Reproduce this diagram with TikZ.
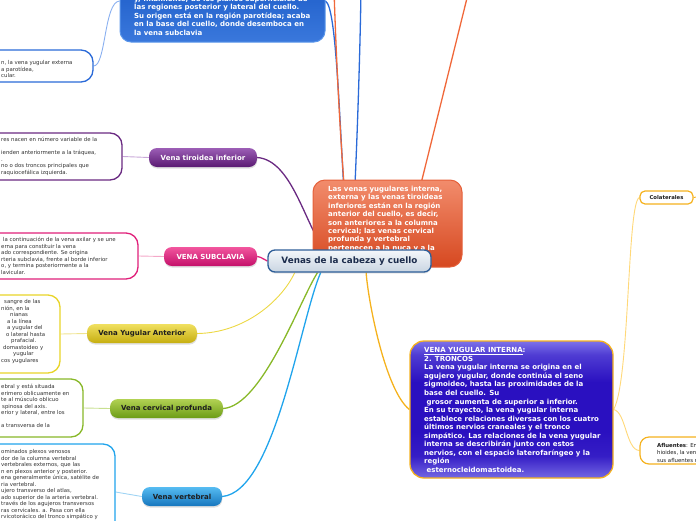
\documentclass[tikz,border=0pt]{standalone}
\usepackage{fontspec}
\setmainfont{DejaVu Sans}
\usetikzlibrary{shadows}
\pgfdeclarelayer{background}
\pgfsetlayers{background,main}
\definecolor{cCenT}{HTML}{F4F7FA}
\definecolor{cCenBot}{HTML}{C9D5E2}
\definecolor{cCenB}{HTML}{2E5E98}
\definecolor{cCenTx}{HTML}{1C2C4C}
\definecolor{cOrT}{HTML}{F28C6C}
\definecolor{cOrBot}{HTML}{D64820}
\definecolor{cOrB}{HTML}{E5603A}
\definecolor{cOrL}{HTML}{F0683A}
\definecolor{cTopT}{HTML}{1454C2}
\definecolor{cTopM}{HTML}{0A46B0}
\definecolor{cTopBot}{HTML}{3A78DC}
\definecolor{cTopB}{HTML}{5A96EA}
\definecolor{cBlueB}{HTML}{2A6AD8}
\definecolor{cBlueL}{HTML}{8AB0F0}
\definecolor{cIntT}{HTML}{7D72EA}
\definecolor{cIntM}{HTML}{2A10C0}
\definecolor{cIntBot}{HTML}{7468E4}
\definecolor{cYelB}{HTML}{F5B21E}
\definecolor{cYelL}{HTML}{FFD878}
\definecolor{cPurT}{HTML}{9C5EB6}
\definecolor{cPurBot}{HTML}{5A1A72}
\definecolor{cPurB}{HTML}{6A2A82}
\definecolor{cPurL}{HTML}{C8A8D8}
\definecolor{cPinT}{HTML}{F2569E}
\definecolor{cPinBot}{HTML}{C4106A}
\definecolor{cPinB}{HTML}{E0207A}
\definecolor{cPinL}{HTML}{F4A8C8}
\definecolor{cYaT}{HTML}{F0E060}
\definecolor{cYaBot}{HTML}{C6AE10}
\definecolor{cYaB}{HTML}{E8D428}
\definecolor{cYaL}{HTML}{F0E490}
\definecolor{cYaTr}{HTML}{ECD844}
\definecolor{cGrT}{HTML}{B2D254}
\definecolor{cGrBot}{HTML}{6C9C16}
\definecolor{cGrB}{HTML}{88B828}
\definecolor{cGrL}{HTML}{C8E090}
\definecolor{cCyT}{HTML}{56BCF2}
\definecolor{cCyBot}{HTML}{1676BE}
\definecolor{cCyB}{HTML}{20A4EC}
\definecolor{cCyL}{HTML}{A0D4F4}
\definecolor{txtgray}{HTML}{333333}
\definecolor{cDark}{HTML}{1E1E1E}
\pgfdeclareverticalshading{intshade}{100bp}{color(0bp)=(cIntBot); color(25bp)=(cIntBot);
  color(33bp)=(cIntM!85!cIntBot); color(42bp)=(cIntM); color(60bp)=(cIntM);
  color(70bp)=(cIntM!55!cIntT); color(75bp)=(cIntT); color(100bp)=(cIntT)}
\tikzset{
  lbl/.style={rounded corners=8pt, inner sep=0pt, minimum height=19pt,
    font=\fontsize{7}{8}\selectfont\bfseries,
    drop shadow={shadow xshift=0.3pt, shadow yshift=-1.6pt, opacity=0.25}},
  leftbox/.style={rounded corners=12pt, draw, line width=1.3pt, fill=white, inner sep=0pt},
  btext/.style={anchor=north west, inner sep=0pt, align=left,
    font=\fontsize{5.4}{6.5}\selectfont, text=txtgray},
  bigtext/.style={anchor=north west, inner sep=0pt, align=left,
    font=\fontsize{7}{8.45}\selectfont\bfseries, text=white},
  twig/.style={line width=0.9pt},
  trunk/.style={line width=1.3pt},
}
\begin{document}
\begin{tikzpicture}[x=1pt,y=-1pt]
\useasboundingbox (0,0) rectangle (696,520);

% top blue node and its leaf
\node[draw=cTopB, line width=1pt, top color=cTopT, middle color=cTopM, bottom color=cTopBot,
  rounded corners=11pt, minimum width=205pt, minimum height=82pt] (topblue) at (222.5,1) {};
\node[bigtext] (toptxt) at (134,-6) {\rule{0pt}{7pt}y, finalmente, de los planos superficiales de\\las regiones posterior y lateral del cuello.\\Su origen está en la región parotídea; acaba\\en la base del cuello, donde desemboca en\\la vena subclavia};

\node[leftbox, draw=cBlueB, minimum width=123pt, minimum height=32pt] (bluebox) at (31.5,66) {};
\node[btext] (bluetxt) at (1,59.1) {\rule{0pt}{5.4pt}n, la vena yugular externa\\a parotídea,\\cular.};

% tiroidea
\node[leftbox, draw=cPurB, minimum width=152pt, minimum height=47pt] (tirbox) at (46,156.5) {};
\node[btext] (tirtxt) at (1,136.1) {\rule{0pt}{5.4pt}res nacen en número variable de la\\\mbox{}\\ienden anteriormente a la tráquea,\\.\\no o dos troncos principales que\\raquiocefálica izquierda.};
\node[lbl, top color=cPurT, bottom color=cPurBot, text=white, minimum width=108pt] (tiroidea) at (203,157.5) {Vena tiroidea inferior};

% subclavia
\node[leftbox, draw=cPinB, minimum width=168pt, minimum height=46pt] (subbox) at (54,256) {};
\node[btext] (subtxt) at (1,236.1) {\rule{0pt}{5.4pt}\hspace*{2pt}la continuación de la vena axilar y se une\\erna para constituir la vena\\ado correspondiente. Se origina\\rteria subclavia, frente al borde inferior\\o, y termina posteriormente a la\\lavicular.};
\node[lbl, top color=cPinT, bottom color=cPinBot, text=white, minimum width=93pt] (subclavia) at (210.5,256.5) {VENA SUBCLAVIA};

% yugular anterior
\node[leftbox, draw=cYaB, minimum width=90pt, minimum height=78pt] (yabox) at (15,334) {};
\node[btext] (yatxt) at (1,298.1) {\rule{0pt}{5.4pt}\hspace*{3pt}sangre de las\\nión, en la\\\hspace*{9pt}nianas\\\hspace*{6pt}a la línea\\\hspace*{6pt}a yugular del\\\hspace*{5pt}o lateral hasta\\\hspace*{10pt}prafacial.\\\hspace*{2pt}domastoideo y\\\hspace*{12pt}yugular\\cos yugulares};
\node[lbl, top color=cYaT, bottom color=cYaBot, text=cDark, minimum width=110pt] (yugant) at (142,333.5) {Vena Yugular Anterior};

% cervical profunda
\node[leftbox, draw=cGrB, minimum width=113pt, minimum height=58pt] (cerbox) at (26.5,408) {};
\node[btext] (certxt) at (1,383.1) {\rule{0pt}{5.4pt}ebral y está situada\\erimero oblicuamente en\\te al músculo oblicuo\\\hspace*{1pt}spinosa del axis.\\erior y lateral, entre los\\\mbox{}\\a transversa de la};
\node[lbl, top color=cGrT, bottom color=cGrBot, text=cDark, minimum width=113pt] (cervical) at (166.5,408.5) {Vena cervical profunda};

% vertebral
\node[leftbox, draw=cCyB, minimum width=145pt, minimum height=96pt] (verbox) at (42.5,492) {};
\node[btext] (vertxt) at (1,448.1) {\rule{0pt}{5.4pt}ominados plexos venosos\\dor de la columna vertebral\\vertebrales externos, que las\\n en plexos anterior y posterior.\\ena generalmente única, satélite de\\ria vertebral.\\ujero transverso del atlas,\\ado superior de la arteria vertebral.\\través de los agujeros transversos\\ras cervicales. a. Pasa con ella\\rvicotorácico del tronco simpático y};
\node[lbl, top color=cCyT, bottom color=cCyBot, text=cDark, minimum width=80pt] (vertebral) at (182,496.5) {Vena vertebral};

% orange node and central
\node[draw=cOrB, line width=1pt, top color=cOrT, bottom color=cOrBot, rounded corners=12pt,
  minimum width=149pt, minimum height=87pt] (orange) at (387.5,223.5) {};
\node[bigtext] (oratxt) at (328,184) {\rule{0pt}{7pt}Las venas yugulares interna,\\externa y las venas tiroideas\\inferiores están en la región\\anterior del cuello, es decir,\\son anteriores a la columna\\cervical; las venas cervical\\profunda y vertebral\\pertenecen a la nuca y a la};
\node[draw=cCenB, line width=1.3pt, top color=cCenT, bottom color=cCenBot, rounded corners=7pt,
  minimum width=163pt, minimum height=22pt, inner sep=0pt,
  font=\fontsize{8.8}{10}\selectfont\bfseries, text=cCenTx,
  drop shadow={shadow xshift=0.3pt, shadow yshift=-1.6pt, opacity=0.2}] (central) at (349.5,261) {Venas de la cabeza y cuello};

% yugular interna
\node[draw=cYelB, line width=1.3pt, shading=intshade,
  rounded corners=14pt, minimum width=203pt, minimum height=137pt] (interna) at (511.5,409.5) {};
\node[bigtext, font=\fontsize{7}{8.55}\selectfont\bfseries] (inttxt) at (424,345.5) {\rule{0pt}{7pt}\underline{VENA YUGULAR INTERNA}:\\2. TRONCOS\\La vena yugular interna se origina en el\\agujero yugular, donde continúa el seno\\sigmoideo, hasta las proximidades de la\\base del cuello. Su\\\hspace*{2.5pt}grosor aumenta de superior a inferior.\\En su trayecto, la vena yugular interna\\establece relaciones diversas con los cuatro\\últimos nervios craneales y el tronco\\simpático. Las relaciones de la vena yugular\\interna se describirán junto con estos\\nervios, con el espacio laterofaríngeo y la\\región\\\hspace*{2.5pt}esternocleidomastoidea.};

% right leaves
\node[draw=cYelB, line width=1.2pt, fill=white, rounded corners=5pt, minimum width=53pt,
  minimum height=13pt, inner sep=0pt, font=\fontsize{5.3}{6}\selectfont\bfseries, text=cDark] (colat) at (666.5,197.5) {Colaterales};
\node[leftbox, draw=cYelB, line width=1.2pt, rounded corners=9pt, minimum width=80pt, minimum height=27pt] (aflu) at (680,450.5) {};
\node[btext, font=\fontsize{5.4}{7.5}\selectfont, text=cDark] (aflutxt) at (657,441.6) {\rule{0pt}{5.4pt}\textbf{Afluentes}: En\\hioides, la ven\\sus afluentes r};

\coordinate (upOr) at (334,-10);
\coordinate (upBl) at (361,-10);
\coordinate (orTop) at (412,220);
\coordinate (orFar) at (469,-10);
\coordinate (colFar) at (702,196);

\begin{pgfonlayer}{background}
  % leaves to their label nodes
  \draw[twig, cBlueL] (bluebox.east) .. controls (106,66) and (104,2) .. (topblue.west);
  \draw[twig, cPurL] (tiroidea.west) -- (tirbox.east);
  \draw[twig, cPinL] (subclavia.west) -- (subbox.east);
  \draw[twig, cYaL] (yugant.west) -- (yabox.east);
  \draw[twig, cGrL] (cervical.west) -- (cerbox.east);
  \draw[twig, cCyL] (vertebral.west) -- (verbox.east);
  % trunks from the central node
  \draw[trunk, cBlueB] (topblue.east) .. controls (337,8) and (339,120) .. (central.100);
  \draw[trunk, cOrL] (central.north) .. controls (340,150) and (336,50) .. (upOr);
  \draw[trunk, cBlueB] (central.80) .. controls (356,180) and (360,60) .. (upBl);
  \draw[trunk, cOrL] (orTop) -- (orFar);
  \draw[trunk, cPurB] (tiroidea.east) .. controls (292,160) and (305,225) .. (central.155);
  \draw[trunk, cPinB] (subclavia.east) .. controls (262,257) and (264,260) .. (central.west);
  \draw[twig, cYaTr] (yugant.east) .. controls (245,333) and (282,300) .. (central.192.5);
  \draw[trunk, cGrB] (cervical.east) .. controls (262,406) and (300,300) .. (central.200.4);
  \draw[trunk, cCyB] (vertebral.east) .. controls (275,492) and (300,320) .. (central.202.5);
  \draw[trunk, cYelB] (central.325) .. controls (368,300) and (385,390) .. (interna.west);
  % yugular interna to its leaves
  \draw[twig, cYelL] (interna.east) .. controls (630,380) and (627,202) .. (colat.west);
  \draw[twig, cYelL] (interna.east) .. controls (626,412) and (626,450) .. (aflu.west);
  \draw[twig, cYelB] (colat.east) -- (colFar);
\end{pgfonlayer}
\end{tikzpicture}
\end{document}
